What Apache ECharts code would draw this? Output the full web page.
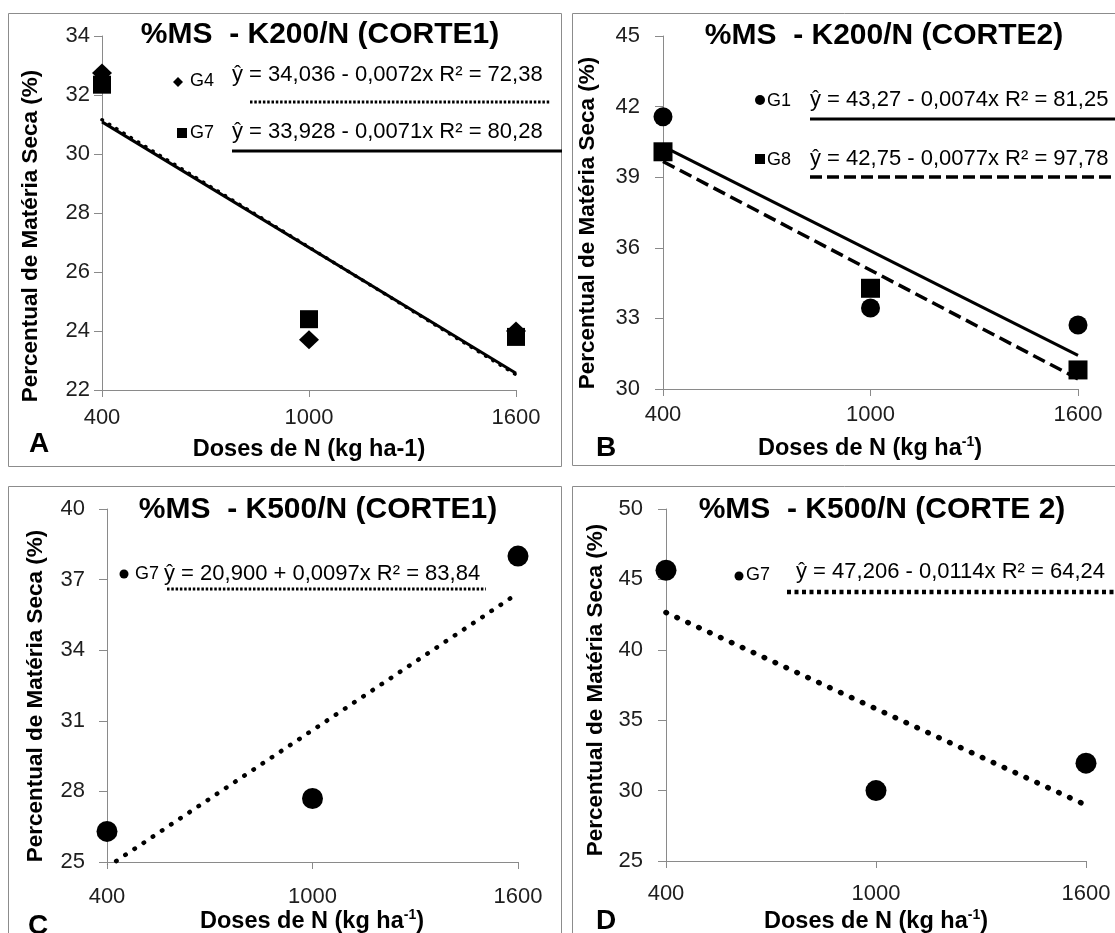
<!DOCTYPE html>
<html>
<head>
<meta charset="utf-8">
<script src="https://cdn.jsdelivr.net/npm/echarts@6/dist/echarts.min.js"></script>
<style>
html,body{margin:0;padding:0;background:#fff;}
#chart{width:1115px;height:933px;}
</style>
</head>
<body>
<div id="chart"></div>
<script>
// ---------------- DATA ----------------
const doses = [400, 1000, 1600];
const xTicks = [400, 1000, 1600];
const trendX = [400, 1600];

// Panel A - K200/N (CORTE1)
const aG4 = [32.75, 23.70, 24.00];
const aG7 = [32.35, 24.40, 23.80];
const aG4Trend = [31.16, 22.52];
const aG7Trend = [31.09, 22.57];
const aYTicks = [22, 24, 26, 28, 30, 32, 34];

// Panel B - K200/N (CORTE2)
const bG1 = [41.57, 33.44, 32.72];
const bG8 = [40.08, 34.28, 30.81];
const bG1Trend = [40.31, 31.43];
const bG8Trend = [39.67, 30.43];
const bYTicks = [30, 33, 36, 39, 42, 45];

// Panel C - K500/N (CORTE1)
const cG7 = [26.30, 27.70, 38.00];
const cG7Trend = [24.78, 36.42];
const cYTicks = [25, 28, 31, 34, 37, 40];

// Panel D - K500/N (CORTE 2)
const dG7 = [45.65, 30.00, 31.95];
const dG7Trend = [42.65, 28.97];
const dYTicks = [25, 30, 35, 40, 45, 50];

// Texts
const titles = ['%MS  - K200/N (CORTE1)', '%MS  - K200/N (CORTE2)', '%MS  - K500/N (CORTE1)', '%MS  - K500/N (CORTE 2)'];
const letters = ['A', 'B', 'C', 'D'];
const yName = 'Percentual de Matéria Seca (%)';
const eqA = ['ŷ = 34,036 - 0,0072x R² = 72,38', 'ŷ = 33,928 - 0,0071x R² = 80,28'];
const eqB = ['ŷ = 43,27 - 0,0074x R² = 81,25', 'ŷ = 42,75 - 0,0077x R² = 97,78'];
const eqC = ['ŷ = 20,900 + 0,0097x R² = 83,84'];
const eqD = ['ŷ = 47,206 - 0,0114x R² = 64,24'];

// ---------------- LAYOUT / STYLE ----------------
const FONT = '"Liberation Sans", Arial, sans-serif';
const AXC = '#8a8a8a';
const TXT = '#1e1e1e';

const grids = [
  {left: 102, top: 36, width: 414, height: 354},
  {left: 663, top: 36, width: 415, height: 353},
  {left: 107, top: 509, width: 411, height: 353},
  {left: 666, top: 509, width: 420, height: 352}
];
const yCfg = [
  {min: 22, max: 34, interval: 2, ticks: aYTicks, margin: 12},
  {min: 30, max: 45, interval: 3, ticks: bYTicks, margin: 23},
  {min: 25, max: 40, interval: 3, ticks: cYTicks, margin: 22},
  {min: 25, max: 50, interval: 5, ticks: dYTicks, margin: 23}
];
const xMargins = [17, 15, 24, 22];
const plain = v => String(v);

function pts(ys) { return doses.map((x, i) => [x, ys[i]]); }
function tr(ys) { return trendX.map((x, i) => [x, ys[i]]); }

const xAxes = grids.map((g, i) => ({
  type: 'value', gridIndex: i, min: 400, max: 1600, interval: 600,
  axisLine: {show: true, onZero: false, lineStyle: {color: AXC, width: 1}},
  axisTick: {show: true, length: 7, customValues: xTicks, lineStyle: {color: AXC, width: 1}},
  axisLabel: {show: true, customValues: xTicks, formatter: plain, fontSize: 22, color: TXT, fontFamily: FONT, margin: xMargins[i], showMinLabel: true, showMaxLabel: true},
  splitLine: {show: false}
}));
const yAxes = yCfg.map((c, i) => ({
  type: 'value', gridIndex: i, min: c.min, max: c.max, interval: c.interval,
  axisLine: {show: true, onZero: false, lineStyle: {color: AXC, width: 1}},
  axisTick: {show: true, length: 8, customValues: c.ticks, lineStyle: {color: AXC, width: 1}},
  axisLabel: {show: true, customValues: c.ticks, formatter: plain, fontSize: 22, color: TXT, fontFamily: FONT, margin: c.margin, showMinLabel: true, showMaxLabel: true},
  splitLine: {show: false}
}));

function scatter(i, data, symbol, size) {
  return {type: 'scatter', xAxisIndex: i, yAxisIndex: i, data: pts(data), symbol: symbol, symbolSize: size,
    itemStyle: {color: '#000', opacity: 1}, z: 4, silent: true};
}
function trend(i, data, lineStyle) {
  return {type: 'line', xAxisIndex: i, yAxisIndex: i, data: tr(data), symbol: 'none', clip: true,
    lineStyle: Object.assign({color: '#000', opacity: 1}, lineStyle), z: 3, silent: true};
}

const series = [
  trend(0, aG4Trend, {width: 3.5, type: [0.5, 8], cap: 'round'}),
  trend(0, aG7Trend, {width: 3, type: 'solid'}),
  scatter(0, aG4, 'diamond', [20, 19]),
  scatter(0, aG7, 'rect', 18),

  trend(1, bG1Trend, {width: 3, type: 'solid'}),
  trend(1, bG8Trend, {width: 3.5, type: [13, 6]}),
  scatter(1, bG1, 'circle', 19),
  scatter(1, bG8, 'rect', 19),

  trend(2, cG7Trend, {width: 4.5, type: [0.5, 10.5], cap: 'round'}),
  scatter(2, cG7, 'circle', 21),

  trend(3, dG7Trend, {width: 5.5, type: [0.5, 11.5], cap: 'round'}),
  scatter(3, dG7, 'circle', 21)
];

// ---------------- GRAPHICS (titles, legends, frames) ----------------
function text(x, y, t, size, weight, align, extra) {
  return Object.assign({
    type: 'text', x: x, y: y, silent: true,
    style: {text: t, fontSize: size, fontWeight: weight || 'normal', fontFamily: FONT, fill: '#000',
      align: align || 'center', verticalAlign: 'middle'}
  }, extra || {});
}
function hline(x1, x2, y, width, dash) {
  return {type: 'line', silent: true, shape: {x1: x1, y1: y, x2: x2, y2: y},
    style: {stroke: '#000', lineWidth: width, lineDash: dash || null}};
}
function frame(x, y, w, h) {
  return {type: 'rect', silent: true, shape: {x: x, y: y, width: w, height: h},
    style: {fill: 'none', stroke: '#8c8c8c', lineWidth: 1}};
}
function xName(cx, cy, sup) {
  if (!sup) return text(cx, cy, 'Doses de N (kg ha-1)', 23.5, 'bold');
  return {type: 'text', x: cx, y: cy, silent: true,
    style: {text: '{n|Doses de N (kg ha}{s|-1}{n|)}', align: 'center', verticalAlign: 'middle',
      fontFamily: FONT, fontSize: 23.5, fontWeight: 'bold', fill: '#000',
      rich: {
        n: {fontSize: 23.5, fontWeight: 'bold', fontFamily: FONT, fill: '#000', lineHeight: 28},
        s: {fontSize: 14, fontWeight: 'bold', fontFamily: FONT, fill: '#000', lineHeight: 14, verticalAlign: 'top'}
      }}};
}
function diamond(cx, cy, r) {
  return {type: 'polygon', silent: true, shape: {points: [[cx, cy - r], [cx + r, cy], [cx, cy + r], [cx - r, cy]]}, style: {fill: '#000'}};
}
function square(cx, cy, s) {
  return {type: 'rect', silent: true, shape: {x: cx - s / 2, y: cy - s / 2, width: s, height: s}, style: {fill: '#000'}};
}
function dot(cx, cy, r) {
  return {type: 'circle', silent: true, shape: {cx: cx, cy: cy, r: r}, style: {fill: '#000'}};
}

const graphics = [
  frame(8.5, 13.5, 553, 453),
  frame(572.5, 13.5, 600, 452),
  frame(8.5, 486.5, 553, 470),
  frame(572.5, 486.5, 600, 470),

  // titles
  text(320, 35, titles[0], 30, 'bold'),
  text(884, 36, titles[1], 30, 'bold'),
  text(318, 510, titles[2], 30, 'bold'),
  text(882, 510, titles[3], 30, 'bold'),

  // y axis names
  text(31, 236, yName, 22.5, 'bold', 'center', {rotation: Math.PI / 2}),
  text(588, 223, yName, 22.5, 'bold', 'center', {rotation: Math.PI / 2}),
  text(36, 696, yName, 22.5, 'bold', 'center', {rotation: Math.PI / 2}),
  text(596, 690, yName, 22.5, 'bold', 'center', {rotation: Math.PI / 2}),

  // x axis names
  xName(309, 450, false),
  xName(870, 449, true),
  xName(312, 922, true),
  xName(876, 922, true),

  // panel letters
  text(39, 444, letters[0], 28, 'bold'),
  text(606, 448, letters[1], 28, 'bold'),
  text(38, 926, letters[2], 28, 'bold'),
  text(606, 921, letters[3], 28, 'bold'),

  // legend A
  diamond(178, 82, 5),
  text(190, 81, 'G4', 18, 'normal', 'left'),
  text(232, 75, eqA[0], 22, 'normal', 'left'),
  hline(250, 550, 102, 3, [2.5, 1.8]),
  square(182, 133, 10),
  text(190, 133, 'G7', 18, 'normal', 'left'),
  text(232, 132, eqA[1], 22, 'normal', 'left'),
  hline(232, 562, 151, 3),

  // legend B
  dot(760, 100, 5),
  text(767, 101, 'G1', 18, 'normal', 'left'),
  text(810, 100, eqB[0], 22, 'normal', 'left'),
  hline(810, 1115, 119, 3),
  square(760, 159, 10),
  text(767, 160, 'G8', 18, 'normal', 'left'),
  text(810, 159, eqB[1], 22, 'normal', 'left'),
  hline(810, 1115, 177, 3.5, [12, 5]),

  // legend C
  dot(124, 574, 4.5),
  text(135, 574, 'G7', 18, 'normal', 'left'),
  text(164, 574, eqC[0], 22, 'normal', 'left'),
  hline(167, 486, 589, 3, [2.5, 1.8]),

  // legend D
  dot(739, 576, 4.5),
  text(746, 575, 'G7', 18, 'normal', 'left'),
  text(796, 572, eqD[0], 22, 'normal', 'left'),
  hline(787, 1115, 592, 4.5, [4, 3.5])
];

const chart = echarts.init(document.getElementById('chart'), null, {renderer: 'canvas'});
chart.setOption({
  animation: false,
  backgroundColor: '#fff',
  textStyle: {fontFamily: FONT},
  grid: grids.map(g => Object.assign({containLabel: false, outerBoundsMode: 'none', show: false}, g)),
  xAxis: xAxes,
  yAxis: yAxes,
  series: series,
  graphic: graphics
});
</script>
</body>
</html>
